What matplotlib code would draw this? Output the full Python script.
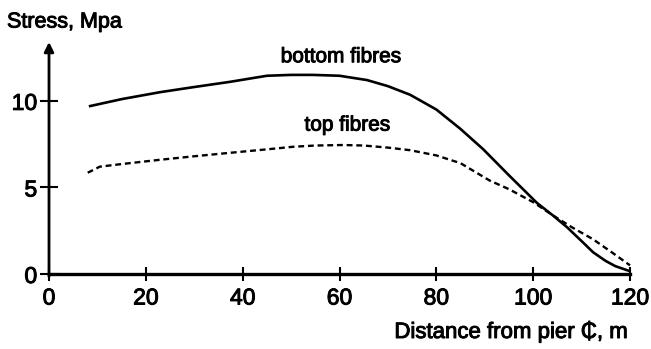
import matplotlib
matplotlib.use('Agg')
import matplotlib.pyplot as plt
import matplotlib.patheffects as pe

plt.rcParams['font.family'] = ['Liberation Sans', 'DejaVu Sans']

# values
bottom_x = [8.5, 15, 22.9, 30, 37.4, 45, 50, 54.5, 60, 65.7, 70, 74.6, 80, 84.9,
            89.7, 95, 100.8, 104, 107, 110, 112.4, 115, 117, 119.6]
bottom_y = [9.7, 10.1, 10.5, 10.8, 11.1, 11.45, 11.5, 11.5, 11.45, 11.2, 10.85, 10.35, 9.5, 8.4,
            7.2, 5.7, 4.1, 3.4, 2.7, 1.9, 1.25, 0.75, 0.45, 0.2]
top_x = [8, 10.5, 15, 23, 30, 37.4, 45, 50.5, 55, 60.7, 65, 70, 74.6, 80, 85,
         91, 95, 100, 104, 108, 112.4, 116, 120]
top_y = [5.85, 6.2, 6.35, 6.6, 6.8, 7.0, 7.2, 7.35, 7.42, 7.45, 7.42, 7.3, 7.15, 6.85, 6.4,
         5.4, 4.9, 4.15, 3.4, 2.7, 2.0, 1.3, 0.5]
x_ticks = [0, 20, 40, 60, 80, 100, 120]
y_ticks = [0, 5, 10]

heavy = [pe.withStroke(linewidth=0.7, foreground='black')]

fig = plt.figure(figsize=(6.51, 3.49), dpi=100)
ax = fig.add_axes([49/651, 75/349, 581/651, 232/349])

ax.plot(bottom_x, bottom_y, color='black', lw=1.9, clip_on=False)
ax.plot(top_x, top_y, color='black', lw=1.7, linestyle=(0, (2.5, 1.6)), clip_on=False)

ax.set_xlim(0, 120)
ax.set_ylim(0, 13.4)
for s in ['top', 'right', 'left']:
    ax.spines[s].set_visible(False)
ax.spines['bottom'].set_linewidth(2.4)

# y axis with arrow head
ax.annotate('', xy=(0, 13.4), xytext=(0, -0.15),
            arrowprops=dict(arrowstyle='-|>', color='black', lw=2.0,
                            mutation_scale=14, shrinkA=0, shrinkB=0),
            annotation_clip=False)

ax.set_xticks(x_ticks)
ax.set_yticks(y_ticks)
ax.tick_params(axis='x', direction='inout', length=10, width=1.5, pad=4, labelsize=16.5)
ax.tick_params(axis='y', direction='inout', length=13, width=1.5, pad=2, labelsize=16.5)
for lab in ax.get_xticklabels() + ax.get_yticklabels():
    lab.set_path_effects(heavy)

ax.text(60.3, 12.55, 'bottom fibres', fontsize=15, ha='center', va='center', path_effects=heavy)
ax.text(61.6, 8.6, 'top fibres', fontsize=15, ha='center', va='center', path_effects=heavy)

fig.text(7/651, 1 - 22/349, 'Stress, Mpa', fontsize=15.5, ha='left', va='center', path_effects=heavy)
fig.text(628/651, 1 - 332/349, 'Distance from pier \u20b5, m', fontsize=16, ha='right', va='center',
         path_effects=heavy)

plt.savefig('out.png', dpi=100)
